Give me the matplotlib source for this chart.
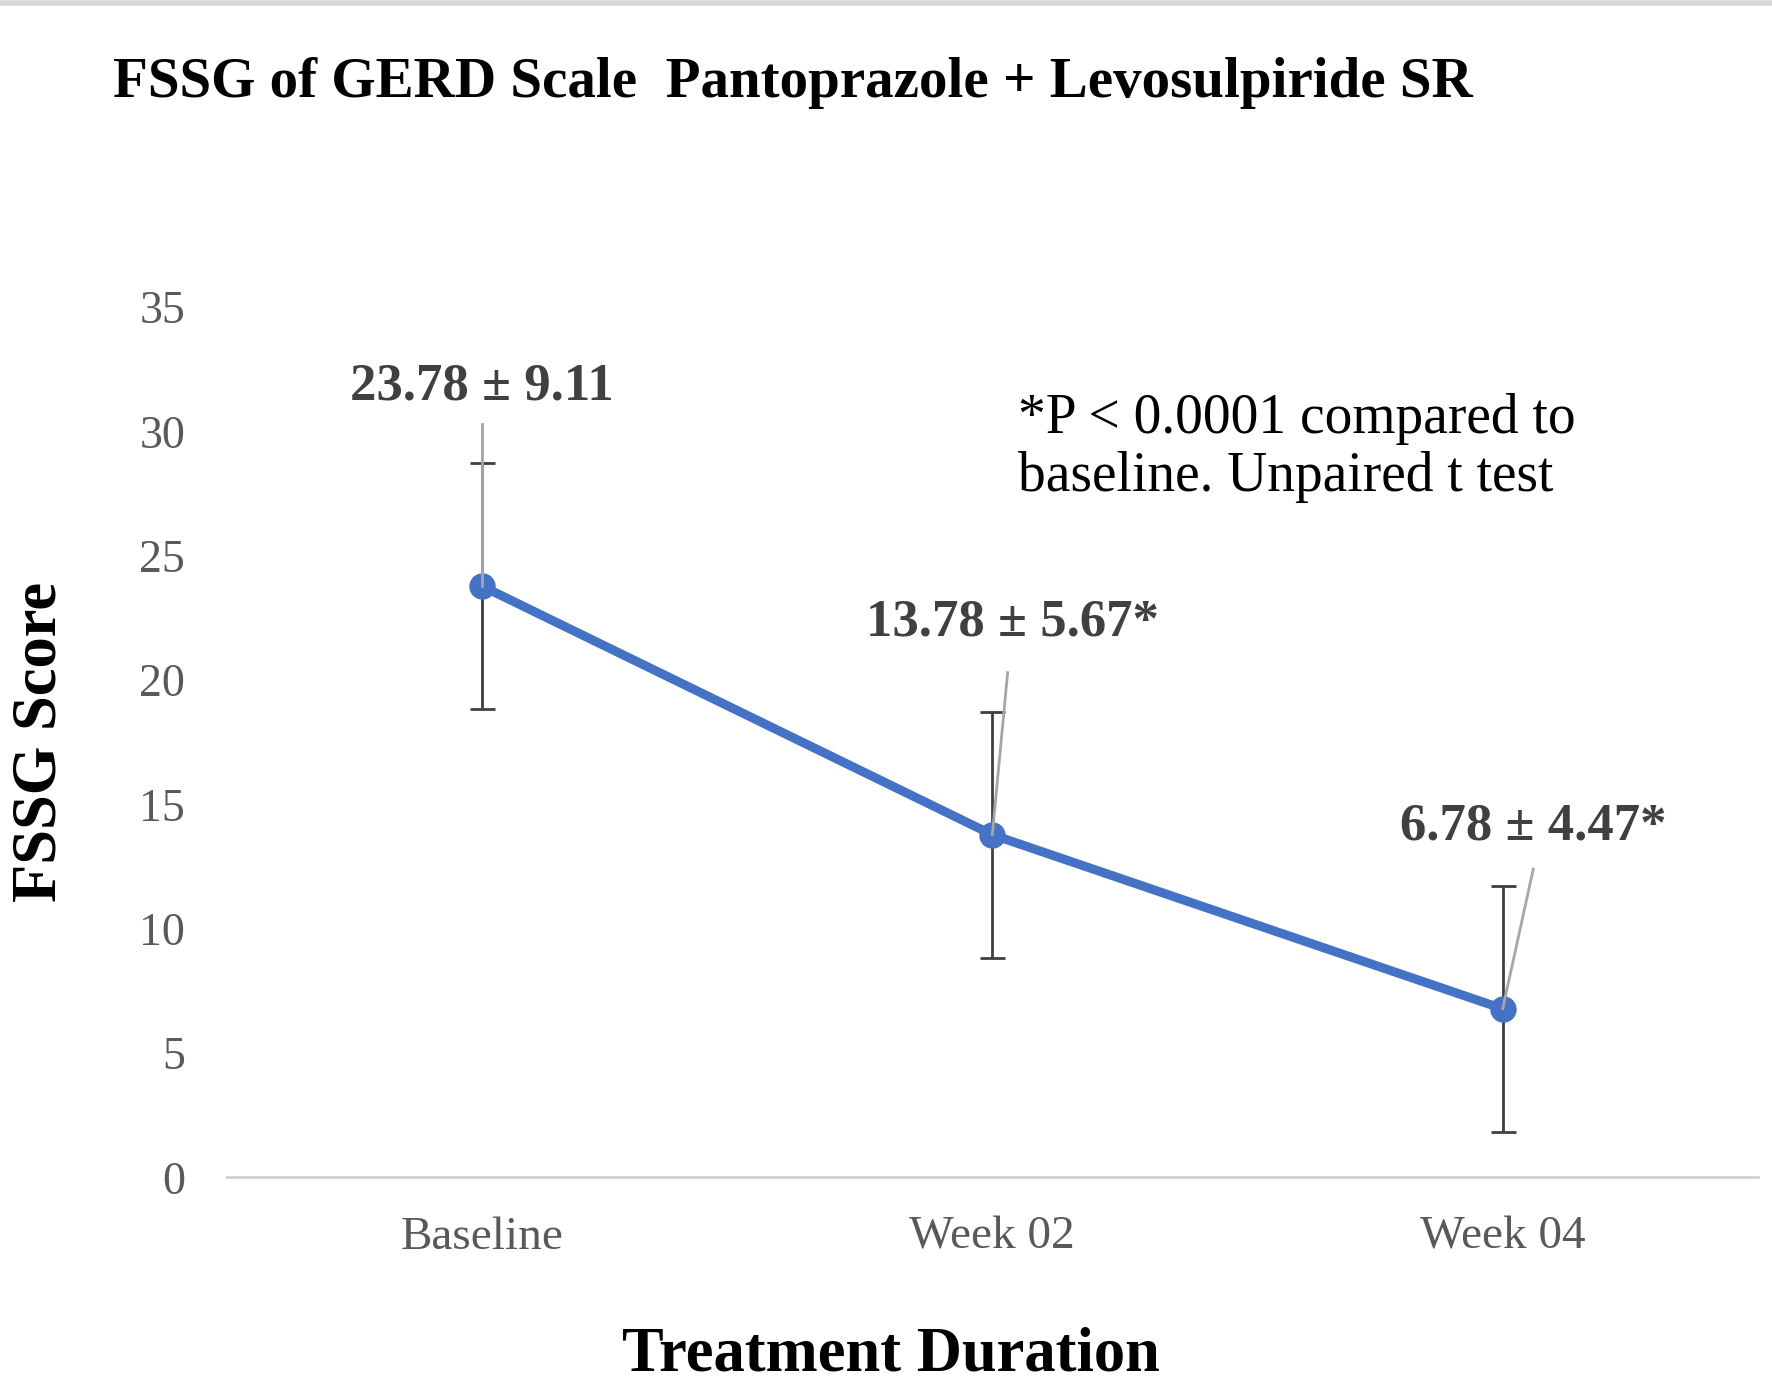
import matplotlib.pyplot as plt

plt.rcParams['font.family'] = ['Liberation Serif', 'DejaVu Serif']

#data
weeks = ['Baseline', 'Week 02', 'Week 04']
score = [23.78, 13.78, 6.78]
err = [4.95, 4.95, 4.95]
labels = ['23.78 ± 9.11', '13.78 ± 5.67*', '6.78 ± 4.47*']
label_pos = [(0, 31.8), (1.04, 22.3), (2.06, 14.1)]
line_top = [(0.0, 30.3), (1.03, 20.3), (2.06, 12.4)]

plt.figure(figsize=(17.72, 13.9), dpi=100)
plt.axes([0.128, 0.153, 0.864, 0.626])
x = range(len(weeks))
plt.errorbar(x, score, yerr=err, fmt='none', ecolor='#404040', elinewidth=2, capsize=9, capthick=2)
plt.plot(x, score, color='#4472C4', linewidth=6.5, marker='o', markersize=18)
for i in x:
    plt.plot([line_top[i][0], i], [line_top[i][1], score[i]], color='#A6A6A6', linewidth=2)
    plt.text(label_pos[i][0], label_pos[i][1], labels[i], ha='center', va='center',
             fontsize=38, fontweight='bold', color='#404040')
plt.text(1.05, 27.6, '*P < 0.0001 compared to\nbaseline. Unpaired t test', fontsize=40,
         linespacing=1.15)
plt.xlim(-0.5, 2.5)
plt.ylim(0, 35)
plt.xticks(x, weeks, fontsize=34, color='#595959')
plt.yticks(range(0, 36, 5), fontsize=33, color='#595959')
plt.tick_params(axis='x', length=0, pad=28)
plt.tick_params(axis='y', length=0, pad=30)
for s in ['top', 'right', 'left']:
    plt.gca().spines[s].set_visible(False)
plt.gca().spines['bottom'].set_color('#D0D0D0')
plt.gca().spines['bottom'].set_linewidth(2)
plt.ylabel('FSSG Score', fontsize=45, fontweight='bold', labelpad=50)
plt.figtext(0.503, 0.025, 'Treatment Duration', fontsize=45, fontweight='bold', ha='center', va='center')
plt.figtext(0.064, 0.94, 'FSSG of GERD Scale  Pantoprazole + Levosulpiride SR', fontsize=41,
            fontweight='bold', va='center')
plt.figtext(0.5, 0.999, ' ', fontsize=1)
plt.gcf().add_artist(plt.Line2D([0, 1], [0.998, 0.998], color='#D9D9D9', linewidth=4))
plt.savefig('out.png')
